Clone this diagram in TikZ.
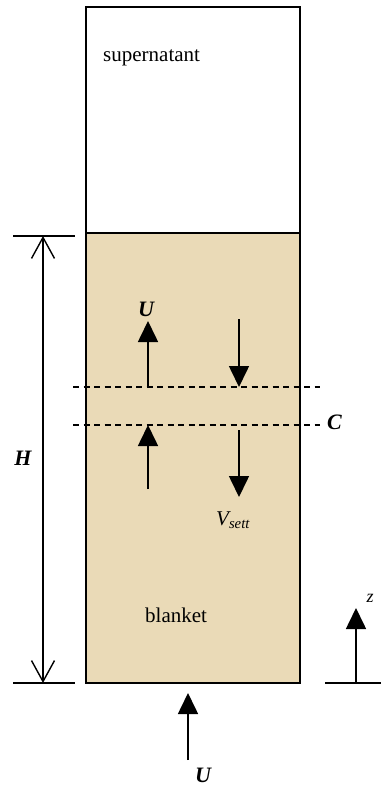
\documentclass[tikz,border=0pt]{standalone}
\usepackage{fontspec}
\setmainfont{Liberation Serif}
\usetikzlibrary{arrows.meta}
\definecolor{blanketfill}{RGB}{234, 218, 183}

\begin{document}
\begin{tikzpicture}[x=1pt, y=-1pt,
      wall/.style={draw=black, line width=1.6pt},
      flow/.style={line width=1.6pt, -{Triangle[length=21pt, width=20pt]}},
      dimline/.style={line width=1.4pt,
                  {Straight Barb[length=21pt, width=23pt]}-{Straight Barb[length=21pt, width=23pt]}},
      tick/.style={line width=1.4pt},
      level/.style={line width=1.4pt, dash pattern=on 6pt off 4.5pt},
      sym/.style={font=\fontsize{22}{25}\selectfont\bfseries\itshape, inner sep=0pt},
      txt/.style={font=\fontsize{21}{24}\selectfont, inner sep=0pt},
    ]
    \useasboundingbox (0,0) rectangle (381,786);
    \def\xl{86}
    \def\xr{300}
    %% column: supernatant and blanket
    \fill[blanketfill] (\xl,233) rectangle (\xr,683);
    \draw[wall] (\xl,7) rectangle (\xr,233);
    \draw[wall] (\xl,233) rectangle (\xr,683);
    \node[txt, anchor=base west] (super) at (103,62) {supernatant};
    \node[txt, anchor=base west] (blanket) at (145,622) {blanket};
    %% height of the blanket
    \coordinate (hTop) at (43,236);
    \coordinate (hBot) at (43,683);
    \draw[tick] (13,236) -- (75,236);
    \draw[tick] (13,683) -- (75,683);
    \draw[dimline] (hTop) -- (hBot);
    \node[sym] (H) at (23,458) {H};
    %% dashed levels
    \foreach \n/\y in {A/387, B/425}{
      \coordinate (lv\n-w) at (73,\y);
      \coordinate (lv\n-e) at (320,\y);
      \draw[level] (lv\n-w) -- (lv\n-e);
    }
    \node[sym, anchor=west] (C) at ([xshift=7pt, yshift=3pt]lvB-e) {C};
    %% upflow and settling arrows
    \coordinate (upA-s) at (148,387);  \coordinate (upA-t) at (148,321);
    \coordinate (upB-s) at (148,489);  \coordinate (upB-t) at (148,425);
    \coordinate (dnA-s) at (239,319);  \coordinate (dnA-t) at (239,387);
    \coordinate (dnB-s) at (239,430);  \coordinate (dnB-t) at (239,497);
    \draw[flow] (upA-s) -- (upA-t);
    \draw[flow] (upB-s) -- (upB-t);
    \draw[flow] (dnA-s) -- (dnA-t);
    \draw[flow] (dnB-s) -- (dnB-t);
    \node[sym] (U1) at (146,309) {U};
    \node[font=\fontsize{21}{24}\selectfont\itshape, inner sep=0pt, anchor=base west]
      (Vs) at (216,525) {V\textsubscript{sett}};
    %% inflow at the bottom
    \coordinate (inU-s) at (188,760);
    \coordinate (inU-t) at (188,693);
    \draw[flow] (inU-s) -- (inU-t);
    \node[sym] (U2) at (203,775) {U};
    %% z axis
    \coordinate (zBase) at (356,683);
    \coordinate (zTip) at (356,608);
    \draw[tick] (325,683) -- (381,683);
    \draw[flow] (zBase) -- (zTip);
    \node[font=\fontsize{18}{20}\selectfont\itshape, inner sep=0pt] (z) at (370,598) {z};
\end{tikzpicture}
\end{document}
